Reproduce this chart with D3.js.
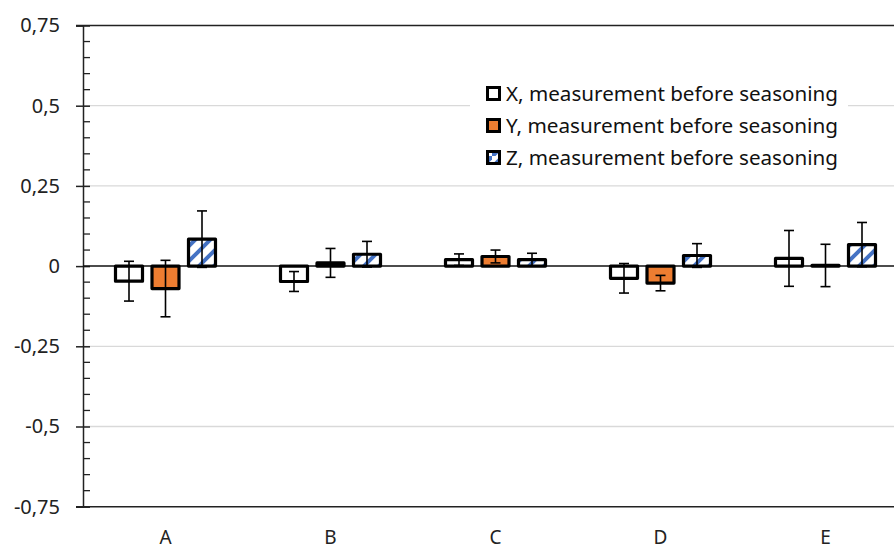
<!DOCTYPE html>
<html>
<head>
<meta charset="utf-8">
<script src="https://cdn.jsdelivr.net/npm/d3@7"></script>
<style>
  body { margin: 0; background: #fff; }
  svg { display: block; font-family: "Noto Sans", "Open Sans", sans-serif; }
  .ylab { font-size: 20px; }
</style>
</head>
<body>
<div id="chart"></div>
<script>
/* grouped bars with error bars, X / Y / Z per sample */
var categories = ["A", "B", "C", "D", "E"];
var seriesNames = ["X, measurement before seasoning",
                   "Y, measurement before seasoning",
                   "Z, measurement before seasoning"];
var xValues = [-0.047, -0.048, 0.020, -0.038, 0.024];
var yValues = [-0.070, 0.010, 0.030, -0.053, 0.002];
var zValues = [0.084, 0.037, 0.020, 0.033, 0.067];
var xErrors = [0.062, 0.031, 0.018, 0.046, 0.087];
var yErrors = [0.088, 0.045, 0.020, 0.024, 0.066];
var zErrors = [0.088, 0.040, 0.020, 0.037, 0.069];
var yTicks = [-0.75, -0.5, -0.25, 0, 0.25, 0.5, 0.75];
var yTickLabels = ["-0,75", "-0,5", "-0,25", "0", "0,25", "0,5", "0,75"];

var width = 894, height = 544;
var plotLeft = 83, plotTop = 25.5, plotBottom = 506.7;
var band = 165;

var svg = d3.select("#chart").append("svg")
    .attr("width", width).attr("height", height);

var defs = svg.append("defs");
var pat = defs.append("pattern")
    .attr("id", "hatch")
    .attr("patternUnits", "userSpaceOnUse")
    .attr("width", 15).attr("height", 15);
pat.append("rect").attr("width", 15).attr("height", 15).attr("fill", "#fff");
pat.append("path")
    .attr("d", "M -2 17 L 17 -2 M -4 4 L 4 -4 M 11 19 L 19 11")
    .attr("stroke", "#4472C4").attr("stroke-width", 4);

var fills = ["#ffffff", "#ED7D31", "url(#hatch)"];

var y = d3.scaleLinear().domain([-0.75, 0.75]).range([plotBottom, plotTop]);
var x0 = d3.scaleBand().domain(categories).range([plotLeft, plotLeft + band * categories.length]);
var x1 = d3.scaleBand().domain(d3.range(3))
    .range([band / 2 - 54.75, band / 2 + 54.75])
    .paddingInner(0.26).paddingOuter(0.13);

// gridlines
svg.append("g").selectAll("line")
    .data(yTicks.filter(function(t){ return t != 0 && Math.abs(t) != 0.75; }))
    .enter().append("line")
    .attr("x1", plotLeft).attr("x2", width)
    .attr("y1", function(d){ return y(d); }).attr("y2", function(d){ return y(d); })
    .attr("stroke", "#d9d9d9").attr("stroke-width", 1.3);

// top and bottom frame lines
[0.75, -0.75].forEach(function(v){
    svg.append("line")
	.attr("x1", 76).attr("x2", width)
	.attr("y1", y(v)).attr("y2", y(v))
	.attr("stroke", "#222").attr("stroke-width", 1.5);
});

// y axis
var yAxis = d3.axisLeft(y).tickValues(yTicks).tickSize(7)
    .tickFormat(function(d, i){ return yTickLabels[i]; });
var ga = svg.append("g").attr("transform", "translate(" + plotLeft + ",0)").call(yAxis);
ga.attr("font-size", 20).attr("font-family", "Noto Sans");
ga.select(".domain").attr("stroke", "#222").attr("stroke-width", 1.5);
ga.selectAll(".tick line").attr("stroke", "#222").attr("stroke-width", 1.5)
    .attr("x1", 7);
ga.selectAll(".tick text").attr("class", "ylab").attr("fill", "#222")
    .attr("x", -23);
var minor = d3.range(-0.75, 0.7501, 0.05).filter(function(v){
    return Math.abs(Math.round(v * 100) % 25) > 0.5;
});
svg.append("g").selectAll("line").data(minor).enter().append("line")
    .attr("x1", plotLeft).attr("x2", plotLeft + 7)
    .attr("y1", function(d){ return y(d); }).attr("y2", function(d){ return y(d); })
    .attr("stroke", "#222").attr("stroke-width", 1.3);

// category labels
svg.append("g").selectAll("text").data(categories).enter().append("text")
    .attr("x", function(d){ return x0(d) + band / 2; })
    .attr("y", 544)
    .attr("text-anchor", "middle")
    .attr("font-size", 19).attr("fill", "#222")
    .text(function(d){ return d; });

// zero line
svg.append("line")
    .attr("x1", plotLeft).attr("x2", width)
    .attr("y1", y(0)).attr("y2", y(0))
    .attr("stroke", "#111").attr("stroke-width", 1.5);

// legend box (covers gridline)
var leg = svg.append("g");
leg.append("rect").attr("x", 470).attr("y", 76).attr("width", 378).attr("height", 100)
    .attr("fill", "#fff");

// bars
var allValues = [xValues, yValues, zValues];
var allErrors = [xErrors, yErrors, zErrors];
var rows = [];
categories.forEach(function(c, i){
    for (var s = 0; s < 3; s++) {
	rows.push({cat: c, s: s, v: allValues[s][i], e: allErrors[s][i]});
    }
});

var g = svg.append("g");
g.selectAll("rect").data(rows).enter().append("rect")
    .attr("x", function(d){ return x0(d.cat) + x1(d.s); })
    .attr("width", x1.bandwidth())
    .attr("y", function(d){ return Math.min(y(d.v), y(0)); })
    .attr("height", function(d){ return Math.max(Math.abs(y(d.v) - y(0)), 0.5); })
    .attr("fill", function(d){ return fills[d.s]; })
    .attr("stroke", "#000").attr("stroke-width", 3.2)
    .attr("stroke-linejoin", "round");

// error bars
var eb = svg.append("g").attr("stroke", "#000").attr("stroke-width", 1.6);
rows.forEach(function(d){
    var cx = x0(d.cat) + x1(d.s) + x1.bandwidth() / 2;
    var y1 = y(d.v + d.e), y2 = y(d.v - d.e);
    eb.append("line").attr("x1", cx).attr("x2", cx).attr("y1", y1).attr("y2", y2);
    eb.append("line").attr("x1", cx - 5).attr("x2", cx + 5).attr("y1", y1).attr("y2", y1);
    eb.append("line").attr("x1", cx - 5).attr("x2", cx + 5).attr("y1", y2).attr("y2", y2);
});

// legend entries
var legPat = defs.append("pattern")
    .attr("id", "hatchSmall")
    .attr("patternUnits", "userSpaceOnUse")
    .attr("width", 12).attr("height", 12);
legPat.append("rect").attr("width", 12).attr("height", 12).attr("fill", "#fff");
legPat.append("path").attr("d", "M -2 14 L 14 -2")
    .attr("stroke", "#4472C4").attr("stroke-width", 5);
var legFills = ["#ffffff", "#ED7D31", "url(#hatchSmall)"];

seriesNames.forEach(function(name, i){
    var ly = 94 + i * 32;
    leg.append("rect").attr("x", 487.5).attr("y", ly - 6.5).attr("width", 12).attr("height", 12)
	.attr("fill", legFills[i]).attr("stroke", "#000").attr("stroke-width", 3);
    leg.append("text").attr("x", 506).attr("y", ly + 7)
	.attr("font-size", 19.5).attr("fill", "#111")
	.attr("textLength", 332).attr("lengthAdjust", "spacingAndGlyphs")
	.text(name);
});
</script>
</body>
</html>
